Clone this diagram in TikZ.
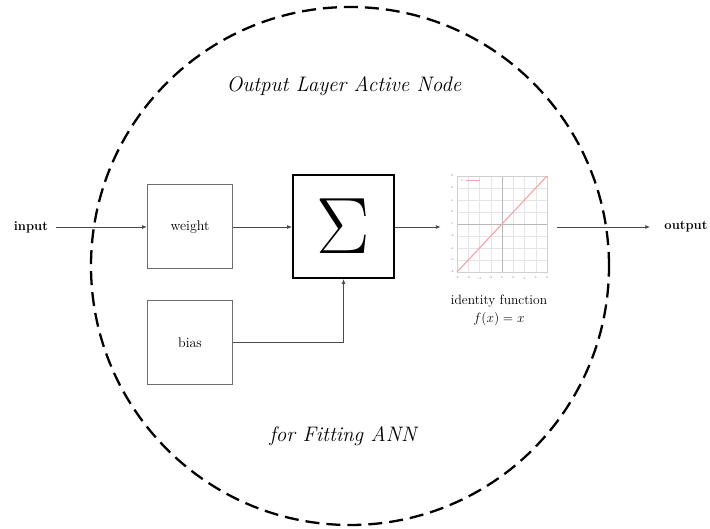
\RequirePackage{fix-cm}
\documentclass[tikz,border=0pt]{standalone}
\usetikzlibrary{arrows.meta,calc}
\definecolor{linegray}{HTML}{4A4A4A}
\definecolor{boxgray}{HTML}{6E6E6E}
\definecolor{gridc}{HTML}{E4E4E4}
\definecolor{axisc}{HTML}{B8B8B8}
\definecolor{curvec}{HTML}{F4A2A2}
\begin{document}
\begin{tikzpicture}[x=1pt,y=-1pt,
  conn/.style={draw=linegray, line width=0.9pt, -{Latex[length=5pt,width=4pt]}},
  box/.style={draw=boxgray, line width=1pt, minimum width=85pt, minimum height=84pt,
    inner sep=0pt, font=\fontsize{14}{16}\selectfont},
  sumbox/.style={draw=black, line width=1.8pt, minimum width=101pt, minimum height=103pt, inner sep=0pt},
  io/.style={font=\fontsize{13}{15}\selectfont\bfseries, inner sep=1pt},
  caption/.style={font=\fontsize{21}{25}\selectfont\itshape},
  plain/.style={font=\fontsize{13.5}{15}\selectfont, inner sep=1pt},
  tick/.style={font=\fontsize{3}{3}\selectfont, text=gray, inner sep=0pt}]
\useasboundingbox (0,0) rectangle (710,529);

% dashed boundary of the neuron
\draw[line width=2.3pt, dash pattern=on 14pt off 7pt] (350,266) circle[radius=259pt];

% captions
\node[caption] (title) at (344,86) {Output Layer Active Node};
\node[caption] (sub) at (343,436) {for Fitting ANN};

% blocks
\node[io] (in) at (31,227) {input};
\node[box] (w) at (190,227) {weight};
\node[box] (b) at (190,342.5) {bias};
\node[sumbox] (s) at (343.5,226.5) {\fontsize{80}{80}\selectfont$\Sigma$};
\node[minimum width=116pt, minimum height=115pt, inner sep=0pt] (p) at (499,227) {};
\node[plain] (idl) at (499,301) {identity function};
\node[plain] (fx) at (499,319) {$f(x) = x$};
\node[io] (out) at (686,227) {output};

% identity-function plot
\begin{scope}
  \foreach \i in {0,...,8} {
    \draw[gridc, line width=0.5pt] (457+11.25*\i,176) -- ++(0,96);
    \draw[gridc, line width=0.5pt] (457,176+12*\i) -- ++(90,0);
  }
  \draw[axisc, line width=0.7pt] (502,176) -- (502,272);
  \draw[axisc, line width=0.7pt] (457,224) -- (547,224);
  \draw[gridc!80!gray, line width=0.5pt] (457,176) rectangle (547,272);
  \foreach \v [count=\k from 0] in {-8,-6,-4,-2,0,2,4,6,8} {
    \node[tick] (tx\k) at (457+11.25*\k,278) {\v};
    \node[tick] (ty\k) at (452,272-12*\k) {\v};
  }
  \draw[curvec, line width=1.1pt] (457,272) -- (547,176);
  \node[tick] (lgx) at (462,181) {x};
  \draw[curvec, line width=1pt] (466,181) -- (480,181);
\end{scope}

% connectors
\draw[conn] ($(in.east |- w.west)+(7,0)$) -- (w.west);
\draw[conn] (w.east) -- (w.east -| s.west);
\draw[conn] (b.east) -| (s.south);
\draw[conn] (s.east |- p.west) -- (p.west);
\draw[conn] (p.east) -- ($(out.west |- p.east)+(-13,0)$);
\end{tikzpicture}
\end{document}
